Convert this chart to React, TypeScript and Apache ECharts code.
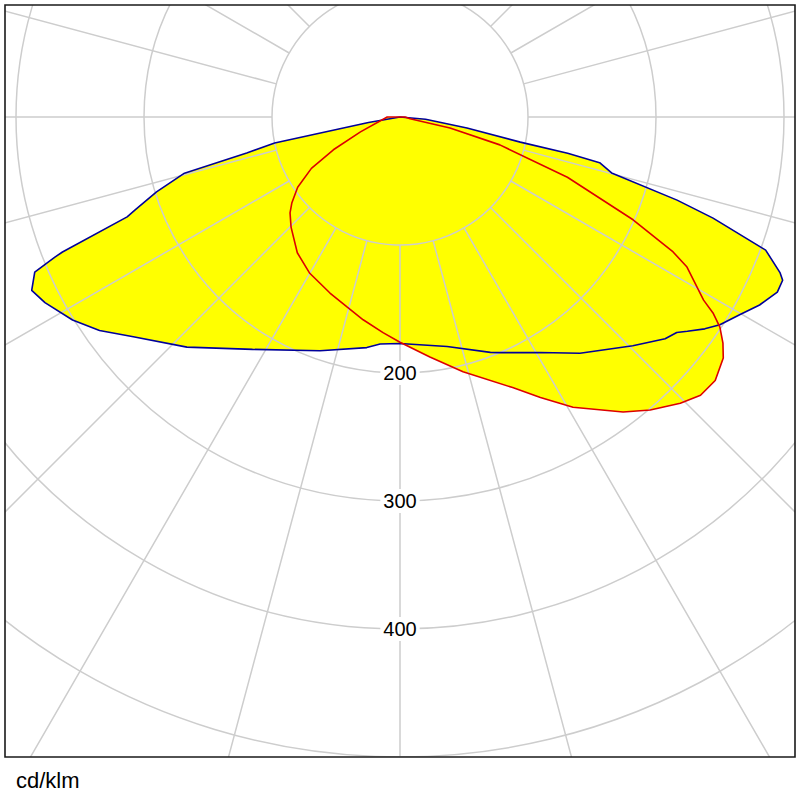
import React, { useEffect, useRef } from "react";
import * as echarts from "echarts";

// Radial scale (cd/klm)
const gridRadiusMin = 100;
const gridRadiusMax = 600;
const radiusStep = 100;
const labelMax = 400;
const angleStep = 15;
const unitLabel = "cd/klm";

// Blue curve: C0-C180 plane. gamma angle (deg from nadir, + = right side), intensity cd/klm
const blueAngles = [
  -90, -80, -78.3, -76.8, -75.4, -72.9, -70.7, -69.9, -68.2, -67.9, -67.0, -64.8, -62.4, -58.2,
  -54.6, -50.5, -42.8, -32.4, -18.9, -8.2, -5.0, 0, 11.6, 21.0, 23.0, 30.7, 37.3, 45.5, 50.1,
  52.1, 53.3, 55.2, 57.0, 59.8, 62.4, 65.1, 66.9, 67.7, 70.0, 72.1, 73.3, 75.2, 77.1, 77.8,
  78.2, 80.7, 85, 90,
];
const blueValues = [
  0, 25, 100, 123, 174, 199, 219, 227, 284, 291, 310, 318, 313, 301,
  288, 270, 245, 215, 193, 182, 178, 177, 183, 197, 200, 214, 232, 255, 270,
  274, 280, 290, 298, 307, 317, 325, 325, 321, 304, 257, 226, 171, 160, 134,
  96, 53, 20, 0,
];

// Red curve: C90-C270 plane
const redAngles = [
  -180, -90, -69.4, -63.8, -59.9, -55.5, -51.5, -48.9, -44.7, -37.1, -30.0, -21.7, -15.6, -10.3,
  -4.5, 0, 7.1, 13.9, 22.6, 26.6, 30.8, 37.1, 40.5, 44.4, 47.2, 50.1, 53.3, 55.0, 56.7, 57.9,
  58.9, 62.4, 63.7, 66.2, 70.2, 74.4, 77.6, 80, 90, 180,
];
const redValues = [
  0, 10, 33, 58, 80, 97, 108, 114, 121, 133, 141, 148, 154, 161,
  169, 176, 189, 205, 229, 245, 264, 289, 301, 313, 320, 321, 315, 308, 299, 289,
  277, 253, 238, 199, 139, 81, 40, 8, 4, 0,
];

const toPolar = (angles: number[], values: number[]) => angles.map((a, i) => [values[i], a]);

export default function App() {
  const ref = useRef<HTMLDivElement>(null);

  useEffect(() => {
    if (!ref.current) return;
    const chart = echarts.init(ref.current, null, { renderer: "svg" });
    const CX = 400;
    const CY = 117;
    const PX_PER_100 = 128;
    const rOuter = (PX_PER_100 * gridRadiusMax) / 100;
    const rInner = (PX_PER_100 * gridRadiusMin) / 100;
    const rLabel = (PX_PER_100 * labelMax) / 100;
    const gridColor = "#cdcdcd";
    const yellow = "#ffff00";
    const blue = "#00009a";
    const red = "#dd0000";

    chart.setOption({
      animation: false,
      backgroundColor: "#ffffff",
      polar: [
        { center: [CX, CY], radius: [rInner, rOuter] },
        { center: [CX, CY], radius: [rInner, rLabel] },
        { center: [CX, CY], radius: rOuter },
      ],
      angleAxis: [
        {
          polarIndex: 0,
          type: "value",
          min: 0,
          max: 360,
          interval: angleStep,
          startAngle: 90,
          clockwise: false,
          axisLine: { show: false },
          axisTick: { show: false },
          axisLabel: { show: false },
          splitLine: { show: true, lineStyle: { color: gridColor, width: 1.5 } },
          z: 2,
        },
        {
          polarIndex: 1,
          type: "value",
          min: 0,
          max: 360,
          startAngle: 270,
          show: false,
        },
        {
          polarIndex: 2,
          type: "value",
          min: -180,
          max: 180,
          startAngle: 90,
          clockwise: false,
          show: false,
        },
      ],
      radiusAxis: [
        {
          polarIndex: 0,
          type: "value",
          min: gridRadiusMin,
          max: gridRadiusMax,
          interval: radiusStep,
          axisLine: { show: false },
          axisTick: { show: false },
          axisLabel: { show: false },
          splitLine: { show: true, lineStyle: { color: gridColor, width: 1.5 } },
          z: 2,
        },
        {
          polarIndex: 1,
          type: "value",
          min: gridRadiusMin,
          max: labelMax,
          interval: radiusStep,
          axisLine: { show: false },
          axisTick: { show: false },
          splitLine: { show: false },
          axisLabel: {
            show: true,
            showMinLabel: false,
            margin: 0,
            align: "center",
            verticalAlign: "middle",
            color: "#000",
            fontSize: 20,
            fontFamily: "'Liberation Sans Narrow', 'Liberation Sans', Arial, sans-serif",
            backgroundColor: "#ffffff",
            padding: [2, 3],
          },
          z: 5,
        },
        {
          polarIndex: 2,
          type: "value",
          min: 0,
          max: gridRadiusMax,
          show: false,
        },
      ],
      series: [
        {
          type: "line",
          coordinateSystem: "polar",
          polarIndex: 2,
          data: toPolar(blueAngles, blueValues),
          symbol: "none",
          silent: true,
          lineStyle: { width: 0, opacity: 0 },
          areaStyle: { color: yellow, opacity: 1 },
          z: 1,
        },
        {
          type: "line",
          coordinateSystem: "polar",
          polarIndex: 2,
          data: toPolar(redAngles, redValues),
          symbol: "none",
          silent: true,
          lineStyle: { width: 0, opacity: 0 },
          areaStyle: { color: yellow, opacity: 1 },
          z: 1,
        },
        {
          type: "line",
          coordinateSystem: "polar",
          polarIndex: 2,
          data: toPolar(blueAngles, blueValues),
          symbol: "none",
          silent: true,
          lineStyle: { color: blue, width: 1.6 },
          z: 3,
        },
        {
          type: "line",
          coordinateSystem: "polar",
          polarIndex: 2,
          data: toPolar(redAngles, redValues),
          symbol: "none",
          silent: true,
          lineStyle: { color: red, width: 1.6 },
          z: 3,
        },
      ],
      graphic: [
        { type: "rect", silent: true, z: 100, shape: { x: 0, y: 0, width: 800, height: 5 }, style: { fill: "#fff" } },
        { type: "rect", silent: true, z: 100, shape: { x: 0, y: 0, width: 5, height: 800 }, style: { fill: "#fff" } },
        { type: "rect", silent: true, z: 100, shape: { x: 795, y: 0, width: 5, height: 800 }, style: { fill: "#fff" } },
        { type: "rect", silent: true, z: 100, shape: { x: 0, y: 757, width: 800, height: 43 }, style: { fill: "#fff" } },
        {
          type: "rect",
          silent: true,
          z: 101,
          shape: { x: 5, y: 5, width: 790, height: 752 },
          style: { fill: "none", stroke: "#1a1a1a", lineWidth: 1.6 },
        },
        {
          type: "text",
          silent: true,
          z: 101,
          x: 16,
          y: 780,
          style: {
            text: unitLabel,
            fontSize: 22,
            fontFamily: "'Liberation Sans', Arial, sans-serif",
            fill: "#000",
            verticalAlign: "middle",
          },
        },
      ],
    });

    return () => chart.dispose();
  }, []);

  return (
    <div
      ref={ref}
      style={{ position: "absolute", left: 0, top: 0, width: 800, height: 800, background: "#fff" }}
    />
  );
}
